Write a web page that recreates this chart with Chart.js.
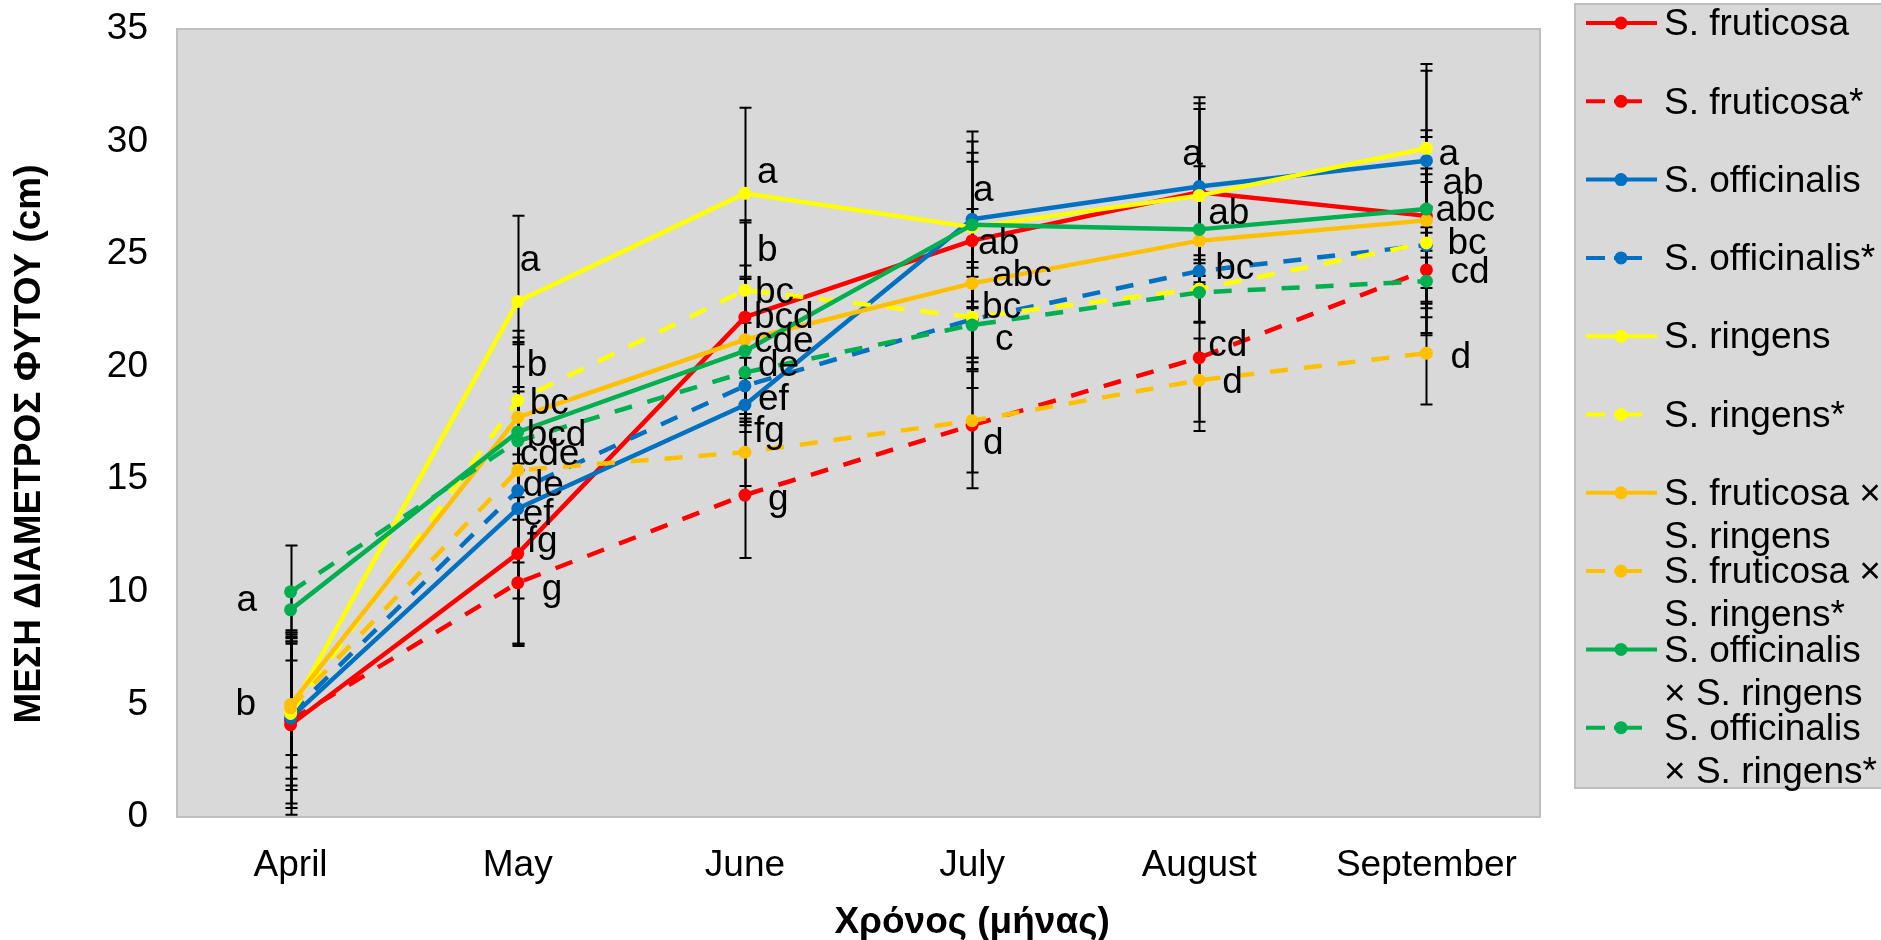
<!DOCTYPE html>
<html>
<head>
<meta charset="utf-8">
<script src="https://cdn.jsdelivr.net/npm/chart.js@4/dist/chart.umd.min.js"></script>
<style>
html,body{margin:0;padding:0;background:#ffffff;}
#wrap{width:1881px;height:940px;position:relative;overflow:hidden;}
</style>
</head>
<body>
<div id="wrap"><canvas id="c" width="1881" height="940"></canvas></div>
<script>
// ---------------- DATA ----------------
const months = ['April', 'May', 'June', 'July', 'August', 'September'];
const yTitle = 'ΜΕΣΗ ΔΙΑΜΕΤΡΟΣ ΦΥΤΟΥ (cm)';
const xTitle = 'Χρόνος (μήνας)';

const seriesNames = [
  'S. fruticosa', 'S. fruticosa*',
  'S. officinalis', 'S. officinalis*',
  'S. ringens', 'S. ringens*',
  'S. fruticosa × S. ringens', 'S. fruticosa × S. ringens*',
  'S. officinalis × S. ringens', 'S. officinalis × S. ringens*'
];

// mean diameter (cm)
const fruticosa          = [4.1, 11.7, 22.2, 25.6, 27.75, 26.7];
const fruticosaStar      = [4.3, 10.4, 14.3, 17.4, 20.4, 24.3];
const officinalis        = [4.4, 13.7, 18.3, 26.55, 28.0, 29.15];
const officinalisStar    = [4.6, 14.5, 19.15, 22.1, 24.25, 25.4];
const ringens            = [4.7, 22.9, 27.7, 26.2, 27.6, 29.7];
const ringensStar        = [4.6, 18.5, 23.4, 22.2, 23.45, 25.5];
const fruticosaRingens     = [5.0, 17.75, 21.2, 23.7, 25.6, 26.5];
const fruticosaRingensStar = [4.85, 15.4, 16.2, 17.6, 19.4, 20.6];
const officinalisRingens     = [9.2, 17.1, 20.7, 26.3, 26.1, 27.0];
const officinalisRingensStar = [10.0, 16.7, 19.75, 21.85, 23.3, 23.8];

// error bar half-lengths (cm)
const errFruticosa          = [4.0, 4.0, 4.3, 3.5, 3.7, 1.85];
const errFruticosaStar      = [3.9, 2.8, 2.8, 2.8, 3.25, 2.8];
const errOfficinalis        = [3.8, 2.4, 1.2, 3.9, 3.97, 4.0];
const errOfficinalisStar    = [3.4, 6.8, 1.6, 2.3, 0.5, 2.8];
const errRingens            = [3.0, 3.8, 3.8, 3.3, 4.1, 3.75];
const errRingensStar        = [3.2, 3.1, 3.0, 1.8, 1.5, 3.3];
const errFruticosaRingens     = [2.8, 3.25, 3.3, 3.3, 2.2, 3.7];
const errFruticosaRingensStar = [2.1, 5.7, 1.5, 2.3, 1.85, 2.28];
const errOfficinalisRingens     = [0.9, 2.9, 3.3, 3.7, 2.8, 3.5];
const errOfficinalisRingensStar = [2.06, 2.2, 2.2, 2.8, 1.3, 2.4];

// significance letters per month
const lettersApril = ['a', 'b'];
const lettersMay   = ['a', 'b', 'bc', 'bcd', 'cde', 'de', 'ef', 'fg', 'g'];
const lettersJune  = ['a', 'b', 'bc', 'bcd', 'cde', 'de', 'ef', 'fg', 'g'];
const lettersJuly  = ['a', 'ab', 'abc', 'bc', 'c', 'd'];
const lettersAug   = ['a', 'ab', 'bc', 'cd', 'd'];
const lettersSep   = ['a', 'ab', 'abc', 'bc', 'cd', 'd'];

// ---------------- LAYOUT / STYLE (not data) ----------------
const FONT = "'Liberation Sans', Arial, sans-serif";
const FS = 37;
// letter anchors: [value-axis level, horizontal offset px]
const letterLayout = [
  [[9.7, -54], [5.06, -55]],
  [[24.8, 2], [20.15, 9], [18.42, 12], [17.04, 9], [16.16, 2], [14.8, 5], [13.5, 5], [12.3, 9], [10.16, 24]],
  [[28.7, 12], [25.25, 12], [23.39, 10], [22.28, 9], [21.21, 9], [20.15, 13], [18.6, 13], [17.18, 9], [14.16, 23]],
  [[27.92, 1], [25.53, 6], [24.14, 20], [22.72, 10], [21.3, 23], [16.65, 11]],
  [[29.52, -17], [26.86, 9], [24.42, 16], [21.04, 9], [19.39, 23]],
  [[29.52, 12], [28.2, 16], [27.0, 9], [25.53, 21], [24.27, 24], [20.5, 24]]
];
const monthLetters = [lettersApril, lettersMay, lettersJune, lettersJuly, lettersAug, lettersSep];

const seriesValues = [fruticosa, fruticosaStar, officinalis, officinalisStar, ringens, ringensStar,
  fruticosaRingens, fruticosaRingensStar, officinalisRingens, officinalisRingensStar];
const seriesErrors = [errFruticosa, errFruticosaStar, errOfficinalis, errOfficinalisStar, errRingens, errRingensStar,
  errFruticosaRingens, errFruticosaRingensStar, errOfficinalisRingens, errOfficinalisRingensStar];
const colors = ['#FF0000', '#FF0000', '#0070C0', '#0070C0', '#FFFF00', '#FFFF00', '#FFC000', '#FFC000', '#00B050', '#00B050'];
const dashed = [false, true, false, true, false, true, false, true, false, true];

const datasets = seriesNames.map((name, i) => ({
  label: name,
  data: seriesValues[i],
  errors: seriesErrors[i],
  borderColor: colors[i],
  backgroundColor: colors[i],
  pointBackgroundColor: colors[i],
  pointBorderColor: colors[i],
  pointBorderWidth: 0,
  pointRadius: 6.5,
  pointHoverRadius: 6.5,
  borderWidth: 4.5,
  borderDash: dashed[i] ? [18, 16] : [],
  borderCapStyle: 'butt',
  tension: 0,
  fill: false,
  order: seriesNames.length - i
}));

// ---------------- PLUGINS ----------------
const plotBg = {
  id: 'plotBg',
  beforeDraw(chart) {
    const {ctx, chartArea: a} = chart;
    ctx.save();
    ctx.fillStyle = '#D9D9D9';
    ctx.fillRect(a.left, a.top, a.right - a.left, a.bottom - a.top);
    ctx.strokeStyle = '#BFBFBF';
    ctx.lineWidth = 2;
    ctx.strokeRect(a.left, a.top, a.right - a.left, a.bottom - a.top);
    ctx.restore();
  }
};

const errorBars = {
  id: 'errorBars',
  beforeDatasetsDraw(chart) {
    const {ctx} = chart;
    const xs = chart.scales.x, ys = chart.scales.y;
    ctx.save();
    ctx.strokeStyle = '#000';
    ctx.lineWidth = 2;
    ctx.setLineDash([]);
    chart.data.datasets.forEach(ds => {
      ds.data.forEach((v, i) => {
        const e = ds.errors[i];
        const x = Math.round(xs.getPixelForValue(i)) + 0.5;
        const y1 = ys.getPixelForValue(v + e);
        const y2 = ys.getPixelForValue(v - e);
        ctx.beginPath();
        ctx.moveTo(x, y1); ctx.lineTo(x, y2);
        ctx.moveTo(x - 6, y1); ctx.lineTo(x + 6, y1);
        ctx.moveTo(x - 6, y2); ctx.lineTo(x + 6, y2);
        ctx.stroke();
      });
    });
    ctx.restore();
  }
};

const letters = {
  id: 'letters',
  afterDatasetsDraw(chart) {
    const {ctx} = chart;
    const xs = chart.scales.x, ys = chart.scales.y;
    ctx.save();
    ctx.fillStyle = '#000';
    ctx.font = FS + 'px ' + FONT;
    ctx.textAlign = 'left';
    ctx.textBaseline = 'middle';
    monthLetters.forEach((list, m) => {
      const cx = xs.getPixelForValue(m);
      list.forEach((txt, k) => {
        const [lvl, dx] = letterLayout[m][k];
        ctx.fillText(txt, cx + dx, ys.getPixelForValue(lvl) + 2);
      });
    });
    ctx.restore();
  }
};

function wrapText(ctx, text, maxW) {
  const words = text.split(' ');
  const lines = [];
  let cur = '';
  words.forEach(w => {
    const t = cur ? cur + ' ' + w : w;
    if (ctx.measureText(t).width > maxW && cur) { lines.push(cur); cur = w; }
    else cur = t;
  });
  if (cur) lines.push(cur);
  return lines;
}

const customLegend = {
  id: 'customLegend',
  afterDraw(chart) {
    const {ctx} = chart;
    ctx.save();
    ctx.fillStyle = '#D9D9D9';
    ctx.fillRect(1575, 4, 340, 784);
    ctx.strokeStyle = '#BFBFBF';
    ctx.lineWidth = 2;
    ctx.strokeRect(1575, 4, 340, 784);
    ctx.font = FS + 'px ' + FONT;
    ctx.textBaseline = 'middle';
    ctx.textAlign = 'left';
    const maxW = ctx.measureText('S. fruticosa ×').width + 1;
    chart.data.datasets.forEach((ds, i) => {
      const cy = 23 + i * 78.3;
      ctx.strokeStyle = ds.borderColor;
      ctx.lineWidth = 4;
      ctx.beginPath();
      if (ds.borderDash.length) {
        ctx.setLineDash([19, 9, 28, 100]);
        ctx.moveTo(1586, cy); ctx.lineTo(1642, cy);
      } else {
        ctx.setLineDash([]);
        ctx.moveTo(1586, cy); ctx.lineTo(1657, cy);
      }
      ctx.stroke();
      ctx.setLineDash([]);
      ctx.fillStyle = ds.borderColor;
      ctx.beginPath();
      ctx.arc(1621, cy, 6.5, 0, Math.PI * 2);
      ctx.fill();
      ctx.fillStyle = '#000';
      const lines = wrapText(ctx, ds.label, maxW);
      lines.forEach((ln, k) => ctx.fillText(ln, 1664, cy + 2 + k * 43));
    });
    ctx.restore();
  }
};

const axisTitles = {
  id: 'axisTitles',
  afterDraw(chart) {
    const {ctx} = chart;
    const xs = chart.scales.x;
    ctx.save();
    ctx.fillStyle = '#000';
    ctx.font = 'bold ' + FS + 'px ' + FONT;
    ctx.textAlign = 'center';
    ctx.textBaseline = 'middle';
    ctx.fillText(xTitle, xs.getPixelForValue(3), 923);
    ctx.translate(30, 444);
    ctx.rotate(-Math.PI / 2);
    ctx.fillText(yTitle, 0, 0);
    ctx.restore();
  }
};

new Chart(document.getElementById('c'), {
  type: 'line',
  data: { labels: months, datasets },
  options: {
    responsive: false,
    animation: false,
    devicePixelRatio: 1,
    layout: { padding: { top: 29, right: 341, bottom: 0, left: 0 } },
    plugins: { legend: { display: false }, tooltip: { enabled: false } },
    elements: { line: { borderJoinStyle: 'round' } },
    scales: {
      x: {
        type: 'category',
        offset: true,
        grid: { display: false, drawTicks: false },
        border: { display: false },
        ticks: { color: '#000', font: { family: FONT, size: FS }, padding: 27, maxRotation: 0, autoSkip: false },
        afterFit(s) { s.height = 123; s.paddingLeft = 0; s.paddingRight = 0; }
      },
      y: {
        min: 0, max: 35,
        grid: { display: false, drawTicks: false },
        border: { display: false },
        ticks: { stepSize: 5, color: '#000', font: { family: FONT, size: FS }, padding: 29 },
        afterFit(s) { s.width = 177; s.paddingTop = 0; s.paddingBottom = 0; }
      }
    }
  },
  plugins: [plotBg, errorBars, letters, customLegend, axisTitles]
});
</script>
</body>
</html>
